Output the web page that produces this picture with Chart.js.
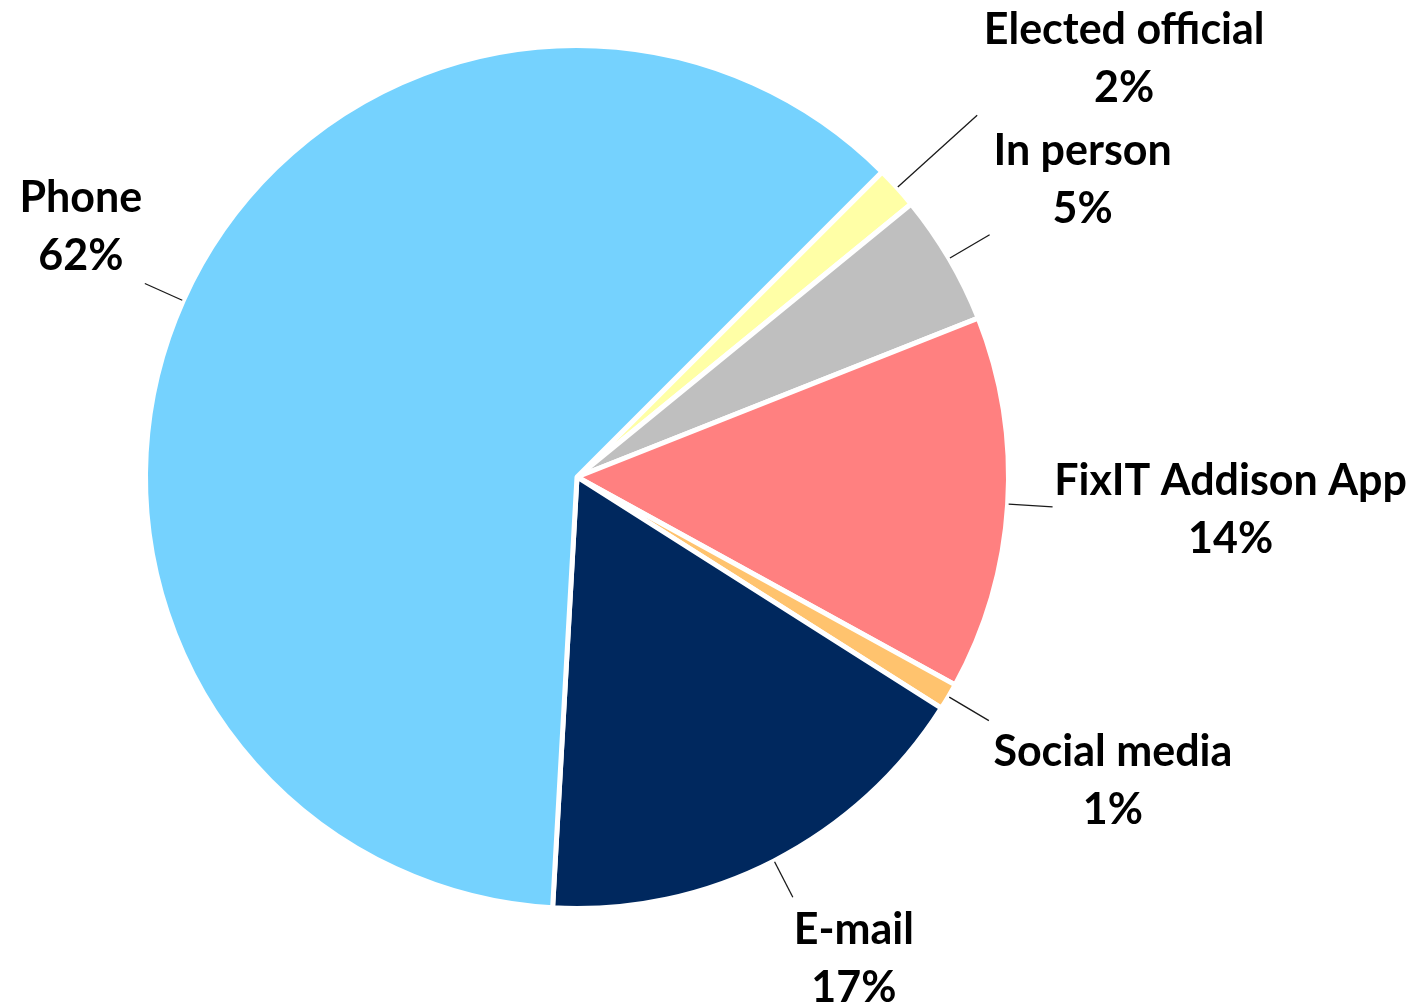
<!DOCTYPE html>
<html>
<head>
<meta charset="utf-8">
<script src="https://cdn.jsdelivr.net/npm/chart.js@4.4.1/dist/chart.umd.min.js"></script>
<style>
  html, body { margin: 0; padding: 0; background: #fff; }
  #wrap { width: 1422px; height: 1006px; }
</style>
</head>
<body>
<div id="wrap"><canvas id="pieChart"></canvas></div>
<script>
// share of service requests by channel (clockwise from the yellow slice)
const channels = ['Elected official', 'In person', 'FixIT Addison App', 'Social media', 'E-mail', 'Phone'];
const shares = [1.6, 4.9, 14.0, 1.0, 16.9, 61.6];
const sliceColors = ['#FFFFA6', '#BFBFBF', '#FF8080', '#FFC36E', '#00285E', '#75D2FE'];

// leader length and label offset from the leader end, per slice
const labelLayout = [
  { len: 107, dx: 147, dy: -57 },
  { len: 46, dx: 93, dy: -56 },
  { len: 44, dx: 178, dy: 2 },
  { len: 46, dx: 124, dy: 60 },
  { len: 40, dx: 61, dy: 61 },
  { len: 41, dx: -64, dy: -57 },
];

const total = shares.reduce((a, b) => a + b, 0);

const labelPlugin = {
  id: 'calloutLabels',
  afterDatasetsDraw(chart) {
    const ctx = chart.ctx;
    const arcs = chart.getDatasetMeta(0).data;
    ctx.save();
    ctx.font = 'bold 43px Lato';
    ctx.textAlign = 'center';
    ctx.textBaseline = 'middle';
    arcs.forEach((arc, i) => {
      const p = arc.getProps(['x', 'y', 'startAngle', 'endAngle', 'outerRadius'], true);
      const mid = (p.startAngle + p.endAngle) / 2;
      const cos = Math.cos(mid), sin = Math.sin(mid);
      const r0 = p.outerRadius + 1;
      const r1 = r0 + labelLayout[i].len;
      const ex = p.x + cos * r1, ey = p.y + sin * r1;

      ctx.strokeStyle = '#1a1a1a';
      ctx.lineWidth = 1.3;
      ctx.beginPath();
      ctx.moveTo(p.x + cos * r0, p.y + sin * r0);
      ctx.lineTo(ex, ey);
      ctx.stroke();

      const cx = ex + labelLayout[i].dx;
      const cy = ey + labelLayout[i].dy;
      const pct = Math.round(shares[i] / total * 100) + '%';
      ctx.fillStyle = '#000';
      ctx.fillText(channels[i], cx, cy - 28);
      ctx.fillText(pct, cx, cy + 30);
    });
    ctx.restore();
  }
};

new Chart(document.getElementById('pieChart'), {
  type: 'pie',
  data: {
    labels: channels,
    datasets: [{
      data: shares,
      backgroundColor: sliceColors,
      borderColor: '#ffffff',
      borderWidth: 5,
      hoverOffset: 0,
    }],
  },
  options: {
    responsive: true,
    maintainAspectRatio: false,
    animation: false,
    rotation: 45,
    layout: {
      padding: { left: 143, right: 411, top: 43, bottom: 95 },
    },
    plugins: {
      legend: { display: false },
      tooltip: { enabled: false },
    },
  },
  plugins: [labelPlugin],
});
</script>
</body>
</html>
